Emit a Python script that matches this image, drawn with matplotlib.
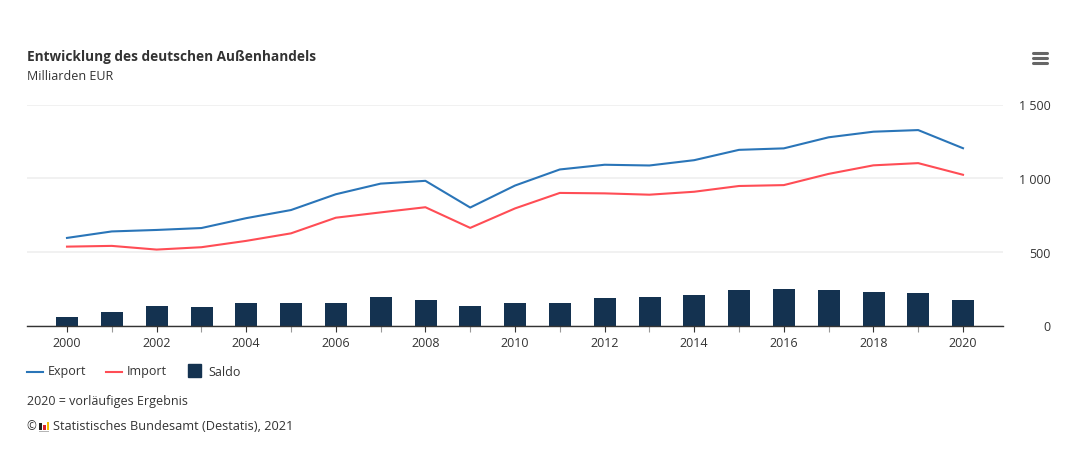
import matplotlib
matplotlib.use('Agg')
import matplotlib.pyplot as plt
from matplotlib.patches import Rectangle
from matplotlib.lines import Line2D
from matplotlib.transforms import ScaledTranslation

years = list(range(2000, 2021))
export = [597, 641, 651, 664, 731, 786, 893, 965, 984, 803, 952, 1061, 1093, 1088, 1124, 1194, 1204, 1279, 1317, 1328, 1205]
imports = [538, 543, 518, 534, 577, 628, 734, 770, 805, 665, 797, 902, 899, 890, 910, 949, 955, 1031, 1089, 1104, 1025]
saldo = [59, 95, 136, 129, 156, 156, 156, 195, 176, 136, 155, 156, 188, 195, 208, 242, 249, 245, 229, 224, 176]
y_ticks = [0, 500, 1000, 1500]
y_labels = ['0', '500', '1 000', '1 500']

W, H = 1082, 451
TEXT = '#333333'
BLUE = '#2a75b8'
RED = '#ff4d55'
NAVY = '#143250'

plt.rcParams['font.family'] = ['Open Sans', 'DejaVu Sans']

def fx(x):
    return x / W

def fy(y):
    return 1 - y / H

fig = plt.figure(figsize=(W / 100, H / 100), dpi=100)
ax = fig.add_axes([fx(27), fy(326), (1003 - 27) / W, (326 - 104.7) / H])

ax.bar([y + 0.005 for y in years], saldo, width=0.49, color=NAVY, zorder=2)
ax.plot(years, export, color=BLUE, lw=1.5, zorder=3)
ax.plot(years, imports, color=RED, lw=1.5, zorder=3)

ax.set_xlim(1999.107, 2020.893)
ax.set_ylim(0, 1500)
ax.yaxis.tick_right()
ax.set_yticks(y_ticks)
ax.set_yticklabels(y_labels, ha='right')
ax.tick_params(axis='y', length=0, pad=34.2, labelsize=9, labelcolor=TEXT)
down = ScaledTranslation(0, -0.4 / 100, fig.dpi_scale_trans)
for lab in ax.get_yticklabels():
    lab.set_transform(lab.get_transform() + down)
ax.set_xticks(years[::2])
ax.set_xticks(years[1::2], minor=True)
ax.tick_params(axis='x', which='major', length=4, width=0.8, color='#333333', labelsize=9, labelcolor=TEXT, pad=4.2)
ax.tick_params(axis='x', which='minor', length=4, width=0.8, color='#999999')
ax.grid(axis='y', color='#f0f0f0', lw=1.3, zorder=0)
ax.set_axisbelow(True)
for s in ['top', 'left', 'right']:
    ax.spines[s].set_visible(False)
ax.spines['bottom'].set_color('#333333')
ax.spines['bottom'].set_linewidth(1.0)
ax.spines['bottom'].set_zorder(4)

# titel
fig.text(fx(27), fy(57.5), 'Entwicklung des deutschen Außenhandels', fontsize=9.8, fontweight='bold',
         color=TEXT, va='center')
fig.text(fx(27), fy(76), 'Milliarden EUR', fontsize=9, color=TEXT, va='center')

# legende von hand, damit die abstaende stimmen
fig.add_artist(Line2D([fx(27), fx(43)], [fy(371.5)] * 2, color=BLUE, lw=1.5))
fig.text(fx(48), fy(372), 'Export', fontsize=9, color=TEXT, va='center')
fig.add_artist(Line2D([fx(106), fx(122)], [fy(371.5)] * 2, color=RED, lw=1.5))
fig.text(fx(127), fy(372), 'Import', fontsize=9, color=TEXT, va='center')
fig.add_artist(Rectangle((fx(188), fy(377)), 13 / W, 13 / H, color=NAVY, transform=fig.transFigure))
fig.text(fx(208), fy(372), 'Saldo', fontsize=9, color=TEXT, va='center')

fig.text(fx(27), fy(401), '2020 = vorläufiges Ergebnis', fontsize=9, color=TEXT, va='center')
fig.text(fx(26.5), fy(427), '©', fontsize=8.5, color=TEXT, va='center')
fig.text(fx(53), fy(427), 'Statistisches Bundesamt (Destatis), 2021', fontsize=9.15, color=TEXT, va='center')

# logo
for x, top, h, c in [(39, 423, 7, '#222222'), (43, 425, 5, '#d9232e'), (46.5, 422, 8, '#f5bd00')]:
    fig.add_artist(Rectangle((fx(x), fy(top + h)), 2.5 / W, h / H, color=c, transform=fig.transFigure, lw=0))
fig.add_artist(Rectangle((fx(39), fy(432)), 10 / W, 1.5 / H, color='#b5b5b5', transform=fig.transFigure, lw=0))

# menue
for y in [53, 58, 63]:
    fig.add_artist(Line2D([fx(1033), fx(1047)], [fy(y)] * 2, color='#666666', lw=2.2, solid_capstyle='round'))

fig.savefig('out.png', dpi=100, facecolor='white')
